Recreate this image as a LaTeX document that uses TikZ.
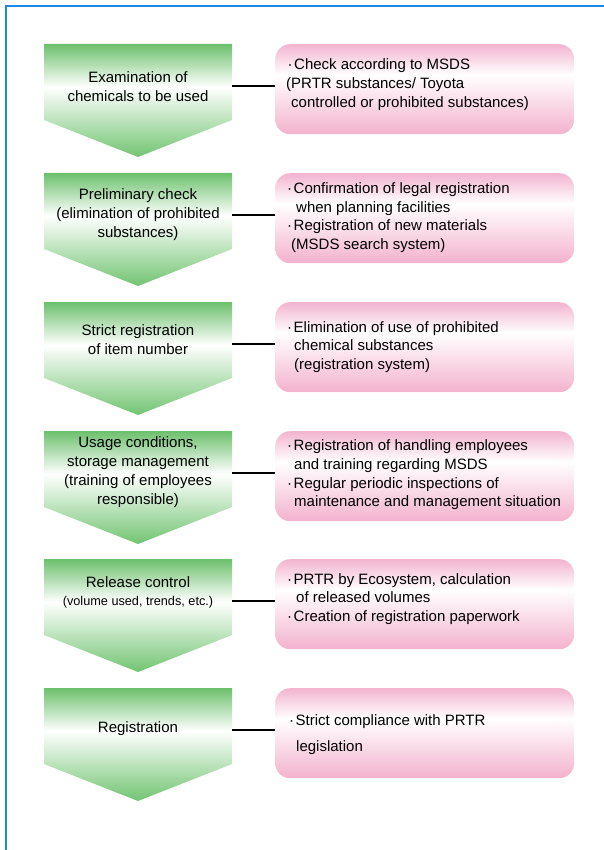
\documentclass[tikz,border=0pt]{standalone}
\usepackage{fontspec}
\setmainfont{Liberation Sans}
\definecolor{gdark}{HTML}{6CC06C}
\definecolor{gtip}{HTML}{72C472}
\definecolor{pinkA}{HTML}{F2B4CF}
\definecolor{pinkB}{HTML}{F3B2CD}
\definecolor{frameblue}{HTML}{1E88E5}
\pgfdeclareverticalshading{greenshade}{100bp}{color(0bp)=(gtip); color(25bp)=(gtip); color(56bp)=(white); color(75bp)=(gdark); color(100bp)=(gdark)}
\pgfdeclareverticalshading{pinkshade}{100bp}{color(0bp)=(pinkB); color(25bp)=(pinkB); color(58bp)=(white); color(75bp)=(pinkA); color(100bp)=(pinkA)}
\newcommand{\bul}{\makebox[6.5pt][l]{·}}
\begin{document}
\begin{tikzpicture}[x=1pt,y=-1pt,
  gtext/.style={align=center,font=\fontsize{15}{19}\selectfont,inner sep=0pt},
  ptext/.style={align=left,anchor=west,font=\fontsize{15}{18.7}\selectfont,inner sep=0pt},
  pbox/.style={rounded corners=15pt,shading=pinkshade,shade,minimum width=299pt,minimum height=90pt,anchor=north west,inner sep=0pt},
  conn/.style={line width=2.5pt,black},
  frame/.style={line width=2pt,frameblue}]
\useasboundingbox (0,0) rectangle (604,850);
\draw[frame] (604,6) -- (6,6) -- (6,850);
% green step shapes
\foreach \y/\n in {44/1,173/2,302/3,431/4,559/5,688/6}{
  \shade[shading=greenshade] (44,\y) -- (232,\y) -- (232,\y+76) -- (138,\y+113) -- (44,\y+76) -- cycle;
  \coordinate (g\n) at (232,\y+42);
  \node[pbox] (p\n) at (275,\y) {};
  \draw[conn] (g\n) -- (g\n -| p\n.west);
}
% green texts
\node[gtext] (t1) at (138,86.5) {Examination of\\chemicals to be used};
\node[gtext] (t2) at (138,215) {Preliminary check\\(elimination of prohibited\\substances)};
\node[gtext] (t3) at (138,339.5) {Strict registration\\of item number};
\node[gtext] (t4) at (138,472) {Usage conditions,\\storage management\\(training of employees\\responsible)};
\node[gtext] (t5) at (138,592.5) {Release control\\[-1pt]{\fontsize{12.7}{15}\selectfont (volume used, trends, etc.)}};
\node[gtext] (t6) at (138,729) {Registration};
% pink texts
\node[ptext] (q1) at (286,84.5) {\hspace{1.5pt}\bul Check according to MSDS\\(PRTR substances/ Toyota\\\hspace{5pt}controlled or prohibited substances)};
\node[ptext] (q2) at (287,217.5) {\bul Confirmation of legal registration\\\hspace{9pt}when planning facilities\\\bul Registration of new materials\\\hspace{4pt}(MSDS search system)};
\node[ptext] (q3) at (287,347) {\bul Elimination of use of prohibited\\\hspace{7pt}chemical substances\\\hspace{7pt}(registration system)};
\node[ptext] (q4) at (287,475) {\bul Registration of handling employees\\\hspace{7pt}and training regarding MSDS\\\bul Regular periodic inspections of\\\hspace{7pt}maintenance and management situation};
\node[ptext] (q5) at (287,599) {\bul PRTR by Ecosystem, calculation\\\hspace{9pt}of released volumes\\\bul Creation of registration paperwork};
\node[ptext,font=\fontsize{15}{26}\selectfont] (q6) at (287,735) {\hspace{2pt}\bul Strict compliance with PRTR\\\hspace{9pt}legislation};
\end{tikzpicture}
\end{document}
